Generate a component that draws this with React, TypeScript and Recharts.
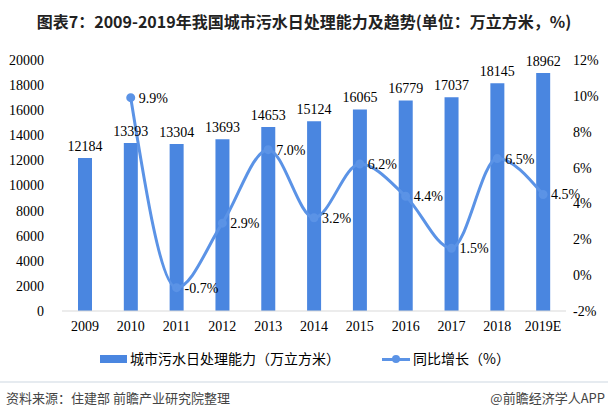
import React from "react";
import { ComposedChart, Bar, Line, XAxis, YAxis, LabelList } from "recharts";

const categories = ["2009", "2010", "2011", "2012", "2013", "2014", "2015", "2016", "2017", "2018", "2019E"];
const capacity = [12184, 13393, 13304, 13693, 14653, 15124, 16065, 16779, 17037, 18145, 18962];
const growth: (number | null)[] = [null, 9.9, -0.7, 2.9, 7.0, 3.2, 6.2, 4.4, 1.5, 6.5, 4.5];
const leftTicks = [0, 2000, 4000, 6000, 8000, 10000, 12000, 14000, 16000, 18000, 20000];
const rightTicks = [-2, 0, 2, 4, 6, 8, 10, 12];

const data = categories.map((c, i) => ({ year: c, cap: capacity[i], g: growth[i] }));

const BAR = "#4a86e0";
const LINE = "#5b93e6";
const serif = "'Liberation Serif', 'Times New Roman', serif";
const cjk = "'Noto Sans CJK SC', 'Noto Sans', sans-serif";

export default function App() {
  return (
    <div style={{ position: "absolute", left: 0, top: 0, width: 608, height: 418, background: "#fff", overflow: "hidden" }}>
      <div style={{ position: "absolute", left: 0, top: 9, width: 608, textAlign: "center", fontFamily: cjk, fontWeight: 700, fontSize: 16, color: "#222", whiteSpace: "nowrap" }}>
        图表7：2009-2019年我国城市污水日处理能力及趋势(单位：万立方米，%)
      </div>
      <ComposedChart width={608} height={418} data={data} margin={{ top: 60, right: 0, bottom: 77, left: 12 }}>
        <XAxis dataKey="year" axisLine={{ stroke: "#d9d9d9" }} tickLine={false} tickSize={0} tickMargin={10}
          tick={{ fontFamily: serif, fontSize: 14, fill: "#000" }} interval={0} height={30} />
        <YAxis yAxisId="l" domain={[0, 20000]} ticks={leftTicks} axisLine={false} tickLine={false} tickSize={0} tickMargin={18}
          width={50} tick={{ fontFamily: serif, fontSize: 14, fill: "#000" }} />
        <YAxis yAxisId="r" orientation="right" domain={[-2, 12]} ticks={rightTicks} axisLine={false} tickLine={false} tickSize={0}
          tickMargin={7} width={42} tickFormatter={(v) => `${v}%`} tick={{ fontFamily: serif, fontSize: 14, fill: "#000" }} />
        <Bar yAxisId="l" dataKey="cap" fill={BAR} barSize={14} isAnimationActive={false}>
          <LabelList dataKey="cap" position="top" offset={7} style={{ fontFamily: serif, fontSize: 14, fill: "#000" }} />
        </Bar>
        <Line yAxisId="r" dataKey="g" type="monotone" stroke={LINE} strokeWidth={3} dot={{ r: 3, fill: LINE, stroke: LINE }}
          isAnimationActive={false}>
          <LabelList dataKey="g" position="right" offset={8} formatter={(v: any) => (v == null ? "" : `${Number(v).toFixed(1)}%`)}
            style={{ fontFamily: serif, fontSize: 14, fill: "#000" }} />
        </Line>
      </ComposedChart>
      <div style={{ position: "absolute", top: 350, left: 0, width: 608, height: 18, fontFamily: cjk, fontSize: 14, color: "#000" }}>
        <div style={{ position: "absolute", left: 100, top: 5, width: 27, height: 8, background: BAR }} />
        <div style={{ position: "absolute", left: 130, top: -1, whiteSpace: "nowrap", lineHeight: "18px" }}>城市污水日处理能力（万立方米）</div>
        <div style={{ position: "absolute", left: 382, top: 8, width: 28, height: 3, background: LINE }} />
        <div style={{ position: "absolute", left: 392, top: 5, width: 8, height: 8, borderRadius: 4, background: LINE }} />
        <div style={{ position: "absolute", left: 413, top: -1, whiteSpace: "nowrap", lineHeight: "18px" }}>同比增长（%）</div>
      </div>
      <div style={{ position: "absolute", left: 0, top: 381, width: 608, height: 2, background: "#e6ebf0" }} />
      <div style={{ position: "absolute", left: 6, top: 388, fontFamily: cjk, fontSize: 13, color: "#444", whiteSpace: "nowrap" }}>
        资料来源：住建部 前瞻产业研究院整理
      </div>
      <div style={{ position: "absolute", right: 3, top: 388, fontFamily: cjk, fontSize: 13, color: "#444", whiteSpace: "nowrap" }}>
        @前瞻经济学人APP
      </div>
    </div>
  );
}
